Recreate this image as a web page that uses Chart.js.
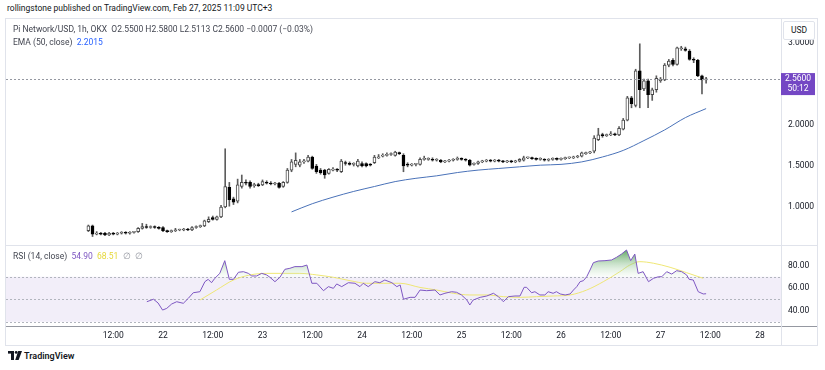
<!DOCTYPE html>
<html>
<head>
<meta charset="utf-8">
<script src="https://cdn.jsdelivr.net/npm/chart.js@4.4.1/dist/chart.umd.min.js"></script>
<style>
  body { margin: 0; width: 825px; height: 370px; overflow: hidden; background: #fff;
         font-family: Roboto, "Liberation Sans", sans-serif; color: #131722; position: relative; }
  .abs { position: absolute; white-space: nowrap; }
  #title { left: 7px; top: 3px; font-size: 8.5px; }
  #frame { left: 5px; top: 18px; width: 811px; height: 326px; border: 1px solid #e0e3eb; }
  #sep { left: 6px; top: 245px; width: 811px; height: 1px; background: #e0e3eb; }
  #main { left: 6px; top: 19px; }
  #rsi { left: 6px; top: 246px; }
  .legend { left: 13px; font-size: 8.5px; color: #434651; }
  #usd { left: 783px; top: 21px; width: 30px; height: 17px; line-height: 17px; text-align: center;
         font-size: 8.5px; background: #fff; border: 1px solid #e0e3eb; border-radius: 2px; }
  #logo { left: 8px; top: 351px; font-size: 9px; font-weight: 600; color: #131722; }
</style>
</head>
<body>
<div class="abs" id="title">rollingstone published on TradingView.com, Feb 27, 2025 11:09 UTC+3</div>
<div class="abs" id="frame"></div>
<canvas class="abs" id="main" width="811" height="226"></canvas>
<div class="abs" id="sep"></div>
<canvas class="abs" id="rsi" width="811" height="99"></canvas>
<div class="abs legend" style="top:24px">Pi Network/USD, 1h, OKX&nbsp; O2.5500 H2.5800 L2.5113 C2.5600 −0.0007 (−0.03%)</div>
<div class="abs legend" style="top:37px">EMA (50, close)&nbsp; <span style="color:#2962ff">2.2015</span></div>
<div class="abs legend" style="top:251px">RSI (14, close)&nbsp; <span style="color:#7e57c2">54.90</span>&nbsp; <span style="color:#e6d83a">68.51</span>&nbsp; <span style="color:#9598a1">∅&nbsp; ∅</span></div>
<div class="abs" id="usd">USD</div>
<div class="abs" id="logo">
  <svg width="14" height="9" viewBox="0 0 14 9" style="vertical-align:-1px">
    <rect x="0" y="0" width="6" height="2.6" fill="#131722"/>
    <rect x="3" y="0" width="3" height="9" fill="#131722"/>
    <circle cx="8.2" cy="1.4" r="1.4" fill="#131722"/>
    <polygon points="10.2,0 14,0 10.6,9 7.2,9" fill="#131722"/>
  </svg> TradingView
</div>

<script>
// hours counted from Feb 21 00:00, first candle at 06:00
const firstHour = 6;
const opens = [
  0.71, 0.77, 0.67, 0.68, 0.68, 0.66, 0.68, 0.67, 0.68, 0.69, 0.68, 0.69, 0.70, 0.74, 0.76, 0.75, 0.76, 0.75,
  0.75, 0.71, 0.70, 0.71, 0.72, 0.72, 0.73, 0.72, 0.75, 0.76, 0.77, 0.82, 0.87, 0.85, 0.88, 1.00, 1.24, 1.10,
  1.07, 1.25, 1.30, 1.30, 1.26, 1.27, 1.27, 1.30, 1.29, 1.28, 1.29, 1.25, 1.30, 1.45, 1.52, 1.51, 1.55, 1.56,
  1.61, 1.50, 1.45, 1.45, 1.41, 1.45, 1.46, 1.43, 1.54, 1.53, 1.52, 1.50, 1.53, 1.53, 1.52, 1.54, 1.60, 1.62,
  1.63, 1.64, 1.63, 1.66, 1.63, 1.52, 1.51, 1.52, 1.52, 1.58, 1.58, 1.58, 1.57, 1.57, 1.55, 1.56, 1.57, 1.58,
  1.59, 1.58, 1.57, 1.52, 1.53, 1.55, 1.56, 1.57, 1.56, 1.57, 1.56, 1.55, 1.56, 1.55, 1.56, 1.57, 1.60, 1.60,
  1.59, 1.58, 1.58, 1.57, 1.58, 1.59, 1.58, 1.59, 1.60, 1.60, 1.61, 1.62, 1.65, 1.66, 1.68, 1.82, 1.88, 1.87,
  1.88, 1.89, 1.88, 1.95, 2.06, 2.33, 2.24, 2.66, 2.44, 2.54, 2.37, 2.43, 2.54, 2.55, 2.73, 2.79, 2.74, 2.93,
  2.93, 2.90, 2.80, 2.79, 2.60, 2.55
];
const highs = [
  0.78, 0.78, 0.70, 0.69, 0.69, 0.69, 0.69, 0.69, 0.70, 0.70, 0.70, 0.70, 0.75, 0.80, 0.79, 0.77, 0.77, 0.76,
  0.76, 0.72, 0.72, 0.74, 0.73, 0.74, 0.74, 0.76, 0.77, 0.78, 0.84, 0.88, 0.89, 0.89, 1.02, 1.71, 1.30, 1.12,
  1.34, 1.39, 1.33, 1.32, 1.29, 1.29, 1.33, 1.32, 1.31, 1.30, 1.30, 1.31, 1.47, 1.58, 1.66, 1.58, 1.58, 1.63,
  1.62, 1.52, 1.47, 1.46, 1.47, 1.48, 1.47, 1.58, 1.56, 1.55, 1.54, 1.58, 1.55, 1.54, 1.53, 1.63, 1.64, 1.65,
  1.66, 1.66, 1.68, 1.67, 1.65, 1.54, 1.53, 1.53, 1.60, 1.62, 1.60, 1.60, 1.59, 1.58, 1.57, 1.58, 1.59, 1.61,
  1.60, 1.59, 1.58, 1.54, 1.56, 1.57, 1.58, 1.58, 1.58, 1.58, 1.57, 1.57, 1.57, 1.57, 1.59, 1.62, 1.61, 1.61,
  1.60, 1.60, 1.59, 1.59, 1.60, 1.60, 1.60, 1.61, 1.61, 1.62, 1.63, 1.67, 1.67, 1.68, 1.87, 1.96, 1.90, 1.89,
  1.92, 1.90, 1.98, 2.08, 2.35, 2.35, 2.68, 2.99, 2.56, 2.56, 2.45, 2.60, 2.58, 2.75, 2.80, 2.81, 2.95, 2.96,
  2.95, 2.92, 2.82, 2.80, 2.61, 2.58
];
const lows = [
  0.70, 0.64, 0.66, 0.66, 0.65, 0.65, 0.66, 0.66, 0.67, 0.67, 0.67, 0.68, 0.69, 0.73, 0.74, 0.74, 0.74, 0.73,
  0.70, 0.69, 0.69, 0.70, 0.71, 0.71, 0.71, 0.71, 0.74, 0.75, 0.76, 0.81, 0.84, 0.84, 0.87, 0.99, 1.01, 1.03,
  1.05, 1.23, 1.27, 1.23, 1.24, 1.25, 1.26, 1.28, 1.27, 1.27, 1.23, 1.24, 1.29, 1.43, 1.49, 1.49, 1.53, 1.55,
  1.46, 1.41, 1.40, 1.35, 1.40, 1.44, 1.43, 1.42, 1.51, 1.51, 1.50, 1.49, 1.49, 1.49, 1.50, 1.53, 1.59, 1.61,
  1.62, 1.63, 1.62, 1.64, 1.43, 1.49, 1.50, 1.50, 1.51, 1.57, 1.57, 1.56, 1.56, 1.54, 1.54, 1.55, 1.56, 1.57,
  1.57, 1.56, 1.50, 1.51, 1.52, 1.54, 1.55, 1.55, 1.55, 1.55, 1.54, 1.54, 1.54, 1.54, 1.55, 1.56, 1.59, 1.58,
  1.57, 1.57, 1.56, 1.56, 1.57, 1.57, 1.57, 1.58, 1.59, 1.59, 1.60, 1.61, 1.64, 1.65, 1.66, 1.81, 1.85, 1.86,
  1.87, 1.87, 1.87, 1.94, 2.05, 2.21, 2.22, 2.21, 2.42, 2.21, 2.30, 2.40, 2.52, 2.54, 2.71, 2.72, 2.73, 2.91,
  2.90, 2.79, 2.76, 2.59, 2.38, 2.5113
];
const closes = [
  0.77, 0.67, 0.68, 0.67, 0.66, 0.68, 0.67, 0.68, 0.69, 0.68, 0.69, 0.69, 0.74, 0.76, 0.75, 0.76, 0.75, 0.74,
  0.71, 0.70, 0.71, 0.72, 0.72, 0.73, 0.72, 0.75, 0.76, 0.76, 0.83, 0.85, 0.85, 0.88, 1.00, 1.25, 1.09, 1.06,
  1.27, 1.30, 1.29, 1.25, 1.27, 1.26, 1.31, 1.29, 1.28, 1.29, 1.24, 1.30, 1.45, 1.55, 1.57, 1.55, 1.56, 1.61,
  1.47, 1.43, 1.42, 1.39, 1.46, 1.46, 1.45, 1.56, 1.53, 1.52, 1.53, 1.56, 1.50, 1.50, 1.51, 1.61, 1.61, 1.63,
  1.64, 1.65, 1.67, 1.65, 1.50, 1.51, 1.52, 1.52, 1.58, 1.59, 1.58, 1.57, 1.58, 1.55, 1.56, 1.57, 1.58, 1.59,
  1.58, 1.57, 1.51, 1.53, 1.55, 1.56, 1.57, 1.56, 1.57, 1.56, 1.55, 1.56, 1.55, 1.56, 1.58, 1.60, 1.60, 1.59,
  1.58, 1.58, 1.57, 1.58, 1.59, 1.58, 1.59, 1.60, 1.60, 1.61, 1.62, 1.66, 1.66, 1.67, 1.84, 1.88, 1.87, 1.88,
  1.89, 1.88, 1.96, 2.06, 2.33, 2.26, 2.66, 2.43, 2.54, 2.37, 2.43, 2.57, 2.56, 2.73, 2.78, 2.74, 2.94, 2.94,
  2.91, 2.80, 2.79, 2.60, 2.55, 2.56
];

// EMA (50, close)
const emaHours = [55, 60, 65, 70, 75, 80, 85, 90, 95, 100, 105, 110, 115, 120, 125, 130, 135, 140, 145, 150, 155];
const emaValues = [0.94, 1.04, 1.12, 1.19, 1.25, 1.31, 1.35, 1.38, 1.42, 1.45, 1.47, 1.49, 1.51, 1.52, 1.55, 1.61, 1.69, 1.81, 1.94, 2.09, 2.20];

// RSI (14) and its moving average
const rsiHours = [
  20.1, 21.7, 22.8, 23.9, 24.9, 26.1, 27.3, 28.9, 30.1, 31.3, 32.9, 34.1, 34.9, 35.7, 36.5, 37.7, 38.9, 40, 41,
  42.2, 43.4, 44.6, 45.4, 46.6, 47.8, 49, 49.8, 51, 52.2, 53.4, 54.6, 55.8, 57.5, 58.7, 59.9, 61.1, 62.7, 63.9,
  65.1, 65.9, 67.1, 68.7, 70.3, 71.5, 72.3, 73.5, 75.1, 76.3, 77.5, 79.2, 80.4, 81.2, 82, 83.6, 84.8, 86, 87.6,
  89.6, 90.8, 92, 93.6, 94.8, 96, 97.3, 98, 98.8, 100.5, 102.1, 103.7, 104.9, 106.1, 107.3, 108.9, 110.1, 111.1,
  111.7, 112.9, 113.7, 114.9, 116.1, 116.9, 118.1, 118.9, 119.8, 121, 122.2, 123, 123.8, 124.6, 125.4, 126.2, 127,
  127.8, 129, 130.6, 132.2, 133.4, 134.6, 135.8, 136.8, 137.8, 138.6, 139.8, 141.1, 142.3, 143.5, 144.3, 145.5,
  146.7, 147.9, 149.1, 150.3, 150.9, 151.9, 153.1, 154.3, 155
];
const rsiValues = [
  47.8, 50, 46.7, 40.4, 41.9, 45.8, 47.8, 46.4, 50.8, 55.8, 56.7, 65.6, 67.7, 64.7, 68.6, 73, 84.3, 67.7, 67.7,
  74, 74.5, 73, 70.7, 70.7, 73, 71.6, 69.5, 65.6, 69.5, 76.6, 77.5, 79, 79, 80.4, 64.2, 64.2, 57.6, 61.2,
  59.7, 63.6, 61.2, 64.7, 64.2, 61.2, 64.2, 61.2, 65.6, 64.7, 67.1, 64.7, 61.2, 62.7, 50, 51.7, 51.7, 58.2, 57.6,
  58.2, 53.8, 55.3, 56.7, 56.2, 53.8, 49.3, 44.9, 49.3, 51.7, 52.9, 55.3, 52.3, 47.8, 52.3, 52.9, 52.9, 60.6,
  60.6, 55.8, 56.7, 53.8, 53.8, 56.7, 55.3, 56.7, 54.7, 53.8, 54.7, 58.2, 61.2, 65.6, 66.5, 70, 76,
  82.5, 84, 84.3, 84.9, 87.3, 90.2, 93.8, 84.3, 90.2, 73, 74.5, 65.6, 68.6, 70, 70, 74.5,
  72.4, 75.4, 74.5, 71.6, 67.7, 67.1, 56.7, 54.7, 54.9
];
const rsiMaHours = [32.9, 36.9, 41, 45, 49, 53, 57, 61.1, 65.1, 69.1, 73.1, 77.1, 81.2, 86, 90, 94, 98, 102.1,
  106.1, 110.1, 114.1, 118.1, 122.2, 126.2, 130.2, 134.2, 136.6, 139, 142.3, 146.3, 150.3, 154.3];
const rsiMaValues = [49.3, 58.2, 67.1, 71.6, 73, 73, 73, 71.6, 69.5, 66.5, 64.2, 64.2, 64.2, 60.5, 58.2, 55.3, 53.8,
  53.8, 52.3, 51.7, 52.3, 52.9, 53.8, 58.2, 65.6, 74.5, 80.4, 83.4, 82, 78.4, 73.6, 68.6];

// axis labels
const tickHours = [12, 24, 36, 48, 60, 72, 84, 96, 108, 120, 132, 144, 156, 168];
const tickLabels = ['12:00', '22', '12:00', '23', '12:00', '24', '12:00', '25', '12:00', '26', '12:00', '27', '12:00', '28'];
const priceTicks = [1.0, 1.5, 2.0, 3.0];
const rsiTicks = [40, 60, 80];
const rsiBands = [70, 50, 30];

const lastPrice = closes[closes.length - 1];
const countdown = '50:12';

const xMin = -13.87;
const xMax = 173.06;
const font = { family: 'Roboto, "Liberation Sans", sans-serif', size: 8.5 };
const axisWidth = 36;

const candleX = (i) => firstHour + i;
const isUp = (i) => closes[i] >= opens[i];

// keep the plot area flush with the canvas edges
const fitY = (s) => { s.width = axisWidth; s.paddingTop = 0; s.paddingBottom = 0; };
const fitX = (s) => { s.height = 19; s.paddingLeft = 0; s.paddingRight = 0; };

const priceTag = {
  id: 'priceTag',
  afterDatasetsDraw(chart) {
    const { ctx, chartArea } = chart;
    const y = Math.round(chart.scales.y.getPixelForValue(lastPrice)) + 0.5;
    ctx.save();
    ctx.strokeStyle = '#9598a1';
    ctx.lineWidth = 1;
    ctx.setLineDash([2, 2]);
    ctx.beginPath();
    ctx.moveTo(chartArea.left, y);
    ctx.lineTo(chartArea.right, y);
    ctx.stroke();
    ctx.restore();
  },
  afterDraw(chart) {
    const { ctx, chartArea } = chart;
    const y = chart.scales.y.getPixelForValue(lastPrice);
    ctx.save();
    ctx.fillStyle = '#7447c4';
    ctx.fillRect(chartArea.right, y - 6, 34, 22);
    ctx.fillStyle = '#fff';
    ctx.font = '8.5px Roboto, "Liberation Sans", sans-serif';
    ctx.textBaseline = 'middle';
    ctx.textAlign = 'center';
    ctx.fillText(lastPrice.toFixed(4), chartArea.right + 17, y);
    ctx.fillText(countdown, chartArea.right + 17, y + 10);
    ctx.restore();
  }
};

new Chart(document.getElementById('main'), {
  type: 'bar',
  data: {
    datasets: [{
      label: 'body',
      order: 0,
      grouped: false,
      barThickness: 3,
      minBarLength: 1,
      borderSkipped: false,
      borderWidth: 1,
      data: opens.map((o, i) => ({ x: candleX(i), y: [o, closes[i]] })),
      backgroundColor: (c) => isUp(c.dataIndex) ? '#ffffff' : '#000000',
      borderColor: (c) => isUp(c.dataIndex) ? '#4a4a4a' : '#000000'
    }, {
      label: 'wick',
      order: 1,
      grouped: false,
      barThickness: 1,
      borderWidth: 0,
      data: lows.map((l, i) => ({ x: candleX(i), y: [l, highs[i]] })),
      backgroundColor: '#5d5d5d'
    }, {
      type: 'line',
      label: 'EMA',
      order: 2,
      data: emaHours.map((h, i) => ({ x: h, y: emaValues[i] })),
      borderColor: '#4a72b8',
      borderWidth: 1,
      pointRadius: 0,
      cubicInterpolationMode: 'monotone'
    }]
  },
  options: {
    responsive: false,
    animation: false,
    layout: { padding: 0 },
    plugins: { legend: { display: false }, tooltip: { enabled: false } },
    scales: {
      x: { type: 'linear', min: xMin, max: xMax, offset: false, display: false },
      y: {
        position: 'right',
        min: 0.5366,
        max: 3.2927,
        afterBuildTicks: (s) => { s.ticks = priceTicks.map(v => ({ value: v })); },
        afterFit: fitY,
        grid: { display: false, drawTicks: false },
        border: { color: '#e0e3eb' },
        ticks: { font, color: '#131722', padding: 7, callback: (v) => Number(v).toFixed(4) }
      }
    }
  },
  plugins: [priceTag]
});

const rsiBandsPlugin = {
  id: 'rsiBands',
  beforeDatasetsDraw(chart) {
    const { ctx, chartArea } = chart;
    const ys = chart.scales.y;
    const top = ys.getPixelForValue(rsiBands[0]);
    const bottom = ys.getPixelForValue(rsiBands[2]);
    ctx.save();
    ctx.fillStyle = 'rgba(126, 87, 194, 0.1)';
    ctx.fillRect(chartArea.left, top, chartArea.right - chartArea.left, bottom - top);
    ctx.strokeStyle = '#b2b5be';
    ctx.lineWidth = 1;
    ctx.setLineDash([2, 2]);
    rsiBands.forEach((b) => {
      const y = Math.round(ys.getPixelForValue(b)) + 0.5;
      ctx.beginPath();
      ctx.moveTo(chartArea.left, y);
      ctx.lineTo(chartArea.right, y);
      ctx.stroke();
    });
    ctx.restore();
  },
  afterDraw(chart) {
    const { ctx, chartArea, width } = chart;
    ctx.save();
    ctx.strokeStyle = '#9598a1';
    ctx.lineWidth = 1;
    ctx.beginPath();
    ctx.moveTo(0, Math.round(chartArea.bottom) + 0.5);
    ctx.lineTo(width, Math.round(chartArea.bottom) + 0.5);
    ctx.stroke();
    ctx.strokeStyle = '#e0e3eb';
    ctx.beginPath();
    ctx.moveTo(Math.round(chartArea.right) + 0.5, chartArea.bottom);
    ctx.lineTo(Math.round(chartArea.right) + 0.5, chart.height);
    ctx.stroke();
    ctx.restore();
  }
};

new Chart(document.getElementById('rsi'), {
  type: 'line',
  data: {
    datasets: [{
      label: 'RSI',
      data: rsiHours.map((h, i) => ({ x: h, y: rsiValues[i] })),
      borderColor: '#7e57c2',
      borderWidth: 1,
      pointRadius: 0,
      tension: 0,
      fill: { target: { value: 70 }, below: 'rgba(0,0,0,0)' },
      backgroundColor: (c) => {
        const chart = c.chart;
        if (!chart.chartArea) return 'rgba(76,175,80,0.3)';
        const ys = chart.scales.y;
        const g = chart.ctx.createLinearGradient(0, ys.getPixelForValue(94), 0, ys.getPixelForValue(70));
        g.addColorStop(0, 'rgba(56, 142, 60, 0.8)');
        g.addColorStop(1, 'rgba(200, 230, 201, 0.1)');
        return g;
      }
    }, {
      label: 'RSI MA',
      data: rsiMaHours.map((h, i) => ({ x: h, y: rsiMaValues[i] })),
      borderColor: 'rgba(238, 230, 110, 0.95)',
      borderWidth: 1,
      pointRadius: 0,
      fill: false,
      cubicInterpolationMode: 'monotone'
    }]
  },
  options: {
    responsive: false,
    animation: false,
    layout: { padding: 0 },
    plugins: { legend: { display: false }, tooltip: { enabled: false } },
    scales: {
      x: {
        type: 'linear',
        min: xMin,
        max: xMax,
        afterBuildTicks: (s) => { s.ticks = tickHours.map(v => ({ value: v })); },
        afterFit: fitX,
        grid: { display: false, drawTicks: false },
        border: { display: false },
        ticks: {
          font, color: '#131722', padding: 5, autoSkip: false, maxRotation: 0,
          callback: (v) => tickLabels[tickHours.indexOf(v)]
        }
      },
      y: {
        position: 'right',
        min: 26.22,
        max: 97.33,
        afterBuildTicks: (s) => { s.ticks = rsiTicks.map(v => ({ value: v })); },
        afterFit: fitY,
        grid: { display: false, drawTicks: false },
        border: { color: '#e0e3eb' },
        ticks: { font, color: '#131722', padding: 7, callback: (v) => Number(v).toFixed(2) }
      }
    }
  },
  plugins: [rsiBandsPlugin]
});
</script>
</body>
</html>
